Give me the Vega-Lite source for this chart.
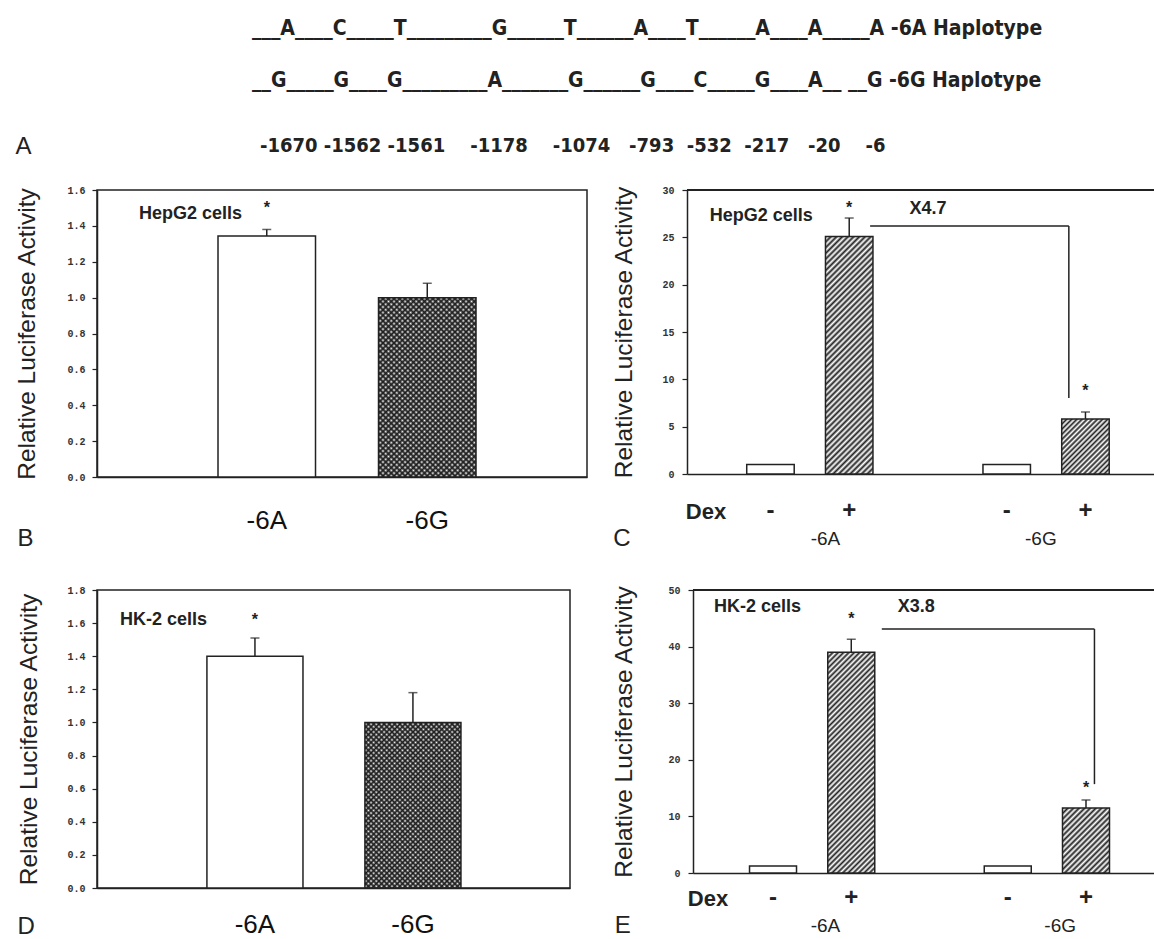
{
"$schema":"https://vega.github.io/schema/vega-lite/v6.json",
"usermeta":{"embedOptions":{"actions":false}},
"background":"white",
"padding":{"left":13,"top":17,"right":0,"bottom":0},
"config":{"font":"Liberation Sans","view":{"stroke":null},"axis":{"grid":false,"labelOverlap":false}},
"bounds":"flush",
"spacing":44,
"vconcat":[
{"width":310,"height":117,
 "data":{"values":[{"k":"1","t":"___A____C_____T_________G______T______A____T______A____A_____A -6A Haplotype"},{"k":"2","t":"__G_____G____G_________A_______G______G____C_____G____A__ __G -6G Haplotype"},{"k":"3","t":"-1670 -1562 -1561\u00a0\u00a0\u00a0 -1178\u00a0\u00a0\u00a0 -1074\u00a0\u00a0 -793\u00a0 -532\u00a0 -217\u00a0\u00a0 -20\u00a0\u00a0\u00a0 -6"}]},
 "layer":[
  {"transform":[{"filter":"datum.k == '1'"}],
   "mark":{"type":"text","font":"DejaVu Sans Condensed, DejaVu Sans","fontWeight":"bold","fontSize":21,"align":"left","baseline":"middle","color":"#222"},
   "encoding":{"y":{"field":"k","type":"ordinal","scale":{"type":"point","domain":["1","2","3"],"padding":0},"axis":{"title":null,"domain":false,"ticks":false,"labelExpr":"datum.value == '3' ? 'A' : ''","labelFont":"Liberation Sans","labelFontSize":24,"labelColor":"#222","labelPadding":66}},"text":{"field":"t"}}},
  {"transform":[{"filter":"datum.k == '2'"}],
   "mark":{"type":"text","font":"DejaVu Sans Condensed, DejaVu Sans","fontWeight":"bold","fontSize":21,"align":"left","baseline":"middle","color":"#222","dy":-6.5},
   "encoding":{"y":{"field":"k","type":"ordinal"},"text":{"field":"t"}}},
  {"transform":[{"filter":"datum.k == '3'"}],
   "mark":{"type":"text","font":"DejaVu Sans Condensed, DejaVu Sans","fontWeight":"bold","fontSize":20,"align":"left","baseline":"middle","color":"#222","dx":8},
   "encoding":{"y":{"field":"k","type":"ordinal"},"text":{"field":"t"}}}
 ]},
{"bounds":"flush","spacing":400,"vconcat":[
 {"bounds":"flush","spacing":100,"hconcat":[
  {"width":490,"height":287,
   "view":{"stroke":"#222","strokeWidth":1.5},
   "data":{"values":[{"geno":"-6A","value":1.343,"hi":1.38},{"geno":"-6G","value":1.0,"hi":1.08}]},
   "layer":[
    {"transform":[{"filter":"datum.geno == '-6A'"}],
     "mark":{"type":"bar","fill":"white","stroke":"#222","strokeWidth":1.5},
     "encoding":{
      "x":{"field":"geno","type":"nominal","scale":{"domain":["-6A","-6G"],"paddingInner":0.3925,"paddingOuter":0.7227,"align":0.5216},
           "axis":{"title":"B","titleX":-80,"titleY":61,"titleAlign":"left","titleBaseline":"middle","titleAngle":0,"titleFontSize":24,"titleFontWeight":"normal","titleColor":"#222","labelAngle":0,"labelFontSize":26,"labelColor":"#111","labelPadding":30,"ticks":false,"tickSize":0,"domainColor":"#222","domainWidth":1.5}},
      "y":{"field":"value","type":"quantitative","scale":{"domain":[0,1.6],"nice":false},
           "axis":{"title":"Relative Luciferase Activity","titleX":-70,"titleBaseline":"middle","titleAlign":"center","titleAngle":-90,"titleFontSize":24.5,"titleFontWeight":"normal","titleColor":"#222","values":[0,0.2,0.4,0.6,0.8,1,1.2,1.4,1.6],"tickCount":20,"format":".1f","labelFont":"Liberation Mono","labelFontSize":10,"labelFontWeight":"bold","labelColor":"#333","tickSize":5,"tickWidth":1.2,"tickColor":"#222","labelPadding":7,"domainColor":"#222","domainWidth":1.5}}}},
    {"transform":[{"filter":"datum.geno == '-6G'"}],
     "mark":{"type":"bar","fill":{"gradient":"linear","x1":0,"y1":0,"x2":0.6476,"y2":1.1916,"stops":[{"offset":0,"color":"#222"},{"offset":0.01,"color":"#fff"},{"offset":0.02,"color":"#222"},{"offset":0.03,"color":"#fff"},{"offset":0.04,"color":"#222"},{"offset":0.05,"color":"#fff"},{"offset":0.06,"color":"#222"},{"offset":0.07,"color":"#fff"},{"offset":0.08,"color":"#222"},{"offset":0.09,"color":"#fff"},{"offset":0.1,"color":"#222"},{"offset":0.11,"color":"#fff"},{"offset":0.12,"color":"#222"},{"offset":0.13,"color":"#fff"},{"offset":0.14,"color":"#222"},{"offset":0.15,"color":"#fff"},{"offset":0.16,"color":"#222"},{"offset":0.17,"color":"#fff"},{"offset":0.18,"color":"#222"},{"offset":0.19,"color":"#fff"},{"offset":0.2,"color":"#222"},{"offset":0.21,"color":"#fff"},{"offset":0.22,"color":"#222"},{"offset":0.23,"color":"#fff"},{"offset":0.24,"color":"#222"},{"offset":0.25,"color":"#fff"},{"offset":0.26,"color":"#222"},{"offset":0.27,"color":"#fff"},{"offset":0.28,"color":"#222"},{"offset":0.29,"color":"#fff"},{"offset":0.3,"color":"#222"},{"offset":0.31,"color":"#fff"},{"offset":0.32,"color":"#222"},{"offset":0.33,"color":"#fff"},{"offset":0.34,"color":"#222"},{"offset":0.35,"color":"#fff"},{"offset":0.36,"color":"#222"},{"offset":0.37,"color":"#fff"},{"offset":0.38,"color":"#222"},{"offset":0.39,"color":"#fff"},{"offset":0.4,"color":"#222"},{"offset":0.41,"color":"#fff"},{"offset":0.42,"color":"#222"},{"offset":0.43,"color":"#fff"},{"offset":0.44,"color":"#222"},{"offset":0.45,"color":"#fff"},{"offset":0.46,"color":"#222"},{"offset":0.47,"color":"#fff"},{"offset":0.48,"color":"#222"},{"offset":0.49,"color":"#fff"},{"offset":0.5,"color":"#222"},{"offset":0.51,"color":"#fff"},{"offset":0.52,"color":"#222"},{"offset":0.53,"color":"#fff"},{"offset":0.54,"color":"#222"},{"offset":0.55,"color":"#fff"},{"offset":0.56,"color":"#222"},{"offset":0.57,"color":"#fff"},{"offset":0.58,"color":"#222"},{"offset":0.59,"color":"#fff"},{"offset":0.6,"color":"#222"},{"offset":0.61,"color":"#fff"},{"offset":0.62,"color":"#222"},{"offset":0.63,"color":"#fff"},{"offset":0.64,"color":"#222"},{"offset":0.65,"color":"#fff"},{"offset":0.66,"color":"#222"},{"offset":0.67,"color":"#fff"},{"offset":0.68,"color":"#222"},{"offset":0.69,"color":"#fff"},{"offset":0.7,"color":"#222"},{"offset":0.71,"color":"#fff"},{"offset":0.72,"color":"#222"},{"offset":0.73,"color":"#fff"},{"offset":0.74,"color":"#222"},{"offset":0.75,"color":"#fff"},{"offset":0.76,"color":"#222"},{"offset":0.77,"color":"#fff"},{"offset":0.78,"color":"#222"},{"offset":0.79,"color":"#fff"},{"offset":0.8,"color":"#222"},{"offset":0.81,"color":"#fff"},{"offset":0.82,"color":"#222"},{"offset":0.83,"color":"#fff"},{"offset":0.84,"color":"#222"},{"offset":0.85,"color":"#fff"},{"offset":0.86,"color":"#222"},{"offset":0.87,"color":"#fff"},{"offset":0.88,"color":"#222"},{"offset":0.89,"color":"#fff"},{"offset":0.9,"color":"#222"},{"offset":0.91,"color":"#fff"},{"offset":0.92,"color":"#222"},{"offset":0.93,"color":"#fff"},{"offset":0.94,"color":"#222"},{"offset":0.95,"color":"#fff"},{"offset":0.96,"color":"#222"},{"offset":0.97,"color":"#fff"},{"offset":0.98,"color":"#222"},{"offset":0.99,"color":"#fff"},{"offset":1,"color":"#222"}]}},
     "encoding":{"x":{"field":"geno","type":"nominal"},"y":{"field":"value","type":"quantitative"}}},
    {"transform":[{"filter":"datum.geno == '-6G'"}],
     "mark":{"type":"bar","stroke":"#222","strokeWidth":1.5,"fill":{"gradient":"linear","x1":0,"y1":1,"x2":0.6476,"y2":-0.1916,"stops":[{"offset":0,"color":"#222"},{"offset":0.01,"color":"transparent"},{"offset":0.02,"color":"#222"},{"offset":0.03,"color":"transparent"},{"offset":0.04,"color":"#222"},{"offset":0.05,"color":"transparent"},{"offset":0.06,"color":"#222"},{"offset":0.07,"color":"transparent"},{"offset":0.08,"color":"#222"},{"offset":0.09,"color":"transparent"},{"offset":0.1,"color":"#222"},{"offset":0.11,"color":"transparent"},{"offset":0.12,"color":"#222"},{"offset":0.13,"color":"transparent"},{"offset":0.14,"color":"#222"},{"offset":0.15,"color":"transparent"},{"offset":0.16,"color":"#222"},{"offset":0.17,"color":"transparent"},{"offset":0.18,"color":"#222"},{"offset":0.19,"color":"transparent"},{"offset":0.2,"color":"#222"},{"offset":0.21,"color":"transparent"},{"offset":0.22,"color":"#222"},{"offset":0.23,"color":"transparent"},{"offset":0.24,"color":"#222"},{"offset":0.25,"color":"transparent"},{"offset":0.26,"color":"#222"},{"offset":0.27,"color":"transparent"},{"offset":0.28,"color":"#222"},{"offset":0.29,"color":"transparent"},{"offset":0.3,"color":"#222"},{"offset":0.31,"color":"transparent"},{"offset":0.32,"color":"#222"},{"offset":0.33,"color":"transparent"},{"offset":0.34,"color":"#222"},{"offset":0.35,"color":"transparent"},{"offset":0.36,"color":"#222"},{"offset":0.37,"color":"transparent"},{"offset":0.38,"color":"#222"},{"offset":0.39,"color":"transparent"},{"offset":0.4,"color":"#222"},{"offset":0.41,"color":"transparent"},{"offset":0.42,"color":"#222"},{"offset":0.43,"color":"transparent"},{"offset":0.44,"color":"#222"},{"offset":0.45,"color":"transparent"},{"offset":0.46,"color":"#222"},{"offset":0.47,"color":"transparent"},{"offset":0.48,"color":"#222"},{"offset":0.49,"color":"transparent"},{"offset":0.5,"color":"#222"},{"offset":0.51,"color":"transparent"},{"offset":0.52,"color":"#222"},{"offset":0.53,"color":"transparent"},{"offset":0.54,"color":"#222"},{"offset":0.55,"color":"transparent"},{"offset":0.56,"color":"#222"},{"offset":0.57,"color":"transparent"},{"offset":0.58,"color":"#222"},{"offset":0.59,"color":"transparent"},{"offset":0.6,"color":"#222"},{"offset":0.61,"color":"transparent"},{"offset":0.62,"color":"#222"},{"offset":0.63,"color":"transparent"},{"offset":0.64,"color":"#222"},{"offset":0.65,"color":"transparent"},{"offset":0.66,"color":"#222"},{"offset":0.67,"color":"transparent"},{"offset":0.68,"color":"#222"},{"offset":0.69,"color":"transparent"},{"offset":0.7,"color":"#222"},{"offset":0.71,"color":"transparent"},{"offset":0.72,"color":"#222"},{"offset":0.73,"color":"transparent"},{"offset":0.74,"color":"#222"},{"offset":0.75,"color":"transparent"},{"offset":0.76,"color":"#222"},{"offset":0.77,"color":"transparent"},{"offset":0.78,"color":"#222"},{"offset":0.79,"color":"transparent"},{"offset":0.8,"color":"#222"},{"offset":0.81,"color":"transparent"},{"offset":0.82,"color":"#222"},{"offset":0.83,"color":"transparent"},{"offset":0.84,"color":"#222"},{"offset":0.85,"color":"transparent"},{"offset":0.86,"color":"#222"},{"offset":0.87,"color":"transparent"},{"offset":0.88,"color":"#222"},{"offset":0.89,"color":"transparent"},{"offset":0.9,"color":"#222"},{"offset":0.91,"color":"transparent"},{"offset":0.92,"color":"#222"},{"offset":0.93,"color":"transparent"},{"offset":0.94,"color":"#222"},{"offset":0.95,"color":"transparent"},{"offset":0.96,"color":"#222"},{"offset":0.97,"color":"transparent"},{"offset":0.98,"color":"#222"},{"offset":0.99,"color":"transparent"},{"offset":1,"color":"#222"}]}},
     "encoding":{"x":{"field":"geno","type":"nominal"},"y":{"field":"value","type":"quantitative"}}},
    {"mark":{"type":"rule","stroke":"#222","strokeWidth":1.5},"encoding":{"x":{"field":"geno","type":"nominal"},"y":{"field":"value","type":"quantitative"},"y2":{"field":"hi"}}},
    {"mark":{"type":"tick","orient":"horizontal","size":9,"thickness":1.5,"color":"#222"},"encoding":{"x":{"field":"geno","type":"nominal"},"y":{"field":"hi","type":"quantitative"}}},
    {"data":{"values":[{"geno":"-6A","v":1.5}]},"mark":{"type":"text","text":"*","fontSize":16,"fontWeight":"bold","color":"#222","baseline":"middle"},"encoding":{"x":{"field":"geno","type":"nominal"},"y":{"field":"v","type":"quantitative"}}},
    {"data":{"values":[{"geno":"-6A","v":1.466,"t":"HepG2 cells"}]},"mark":{"type":"text","fontSize":18,"fontWeight":"bold","color":"#222","align":"left","baseline":"middle"},"encoding":{"x":{"field":"geno","type":"nominal","bandPosition":-0.81},"y":{"field":"v","type":"quantitative"},"text":{"field":"t"}}}
   ]},
  {"width":468,"height":284,
   "data":{"values":[{"cond":"-6A -","geno":"-6A","dex":"-","value":1.0},{"cond":"-6A +","geno":"-6A","dex":"+","value":25.1,"hi":27.04},{"cond":"-6G -","geno":"-6G","dex":"-","value":1.0},{"cond":"-6G +","geno":"-6G","dex":"+","value":5.8,"hi":6.55}]},
   "layer":[
    {"transform":[{"filter":"datum.dex == '-'"}],
     "mark":{"type":"bar","fill":"white","stroke":"#222","strokeWidth":1.5},
     "encoding":{
      "x":{"field":"cond","type":"nominal","scale":{"domain":["-6A -","-6A +","gap","-6G -","-6G +"],"paddingInner":0.397,"paddingOuter":0.67,"align":0.566},
           "axis":{"title":"Dex","titleX":18.5,"titleY":37,"titleAlign":"center","titleBaseline":"middle","titleAngle":0,"titleFontSize":22,"titleFontWeight":"bold","titleColor":"#222","labelExpr":"datum.value == 'gap' ? '' : slice(datum.value, -1)","labelAngle":0,"labelFontSize":24,"labelFontWeight":"bold","labelColor":"#222","labelPadding":24,"ticks":false,"tickSize":0,"domainColor":"#222","domainWidth":1.5}},
      "y":{"field":"value","type":"quantitative","scale":{"domain":[0,30],"nice":false},
           "axis":{"title":"Relative Luciferase Activity","titleX":-63,"titleBaseline":"middle","titleAlign":"center","titleAngle":-90,"titleFontSize":24.5,"titleFontWeight":"normal","titleColor":"#222","values":[0,5,10,15,20,25,30],"tickCount":20,"format":"d","labelFont":"Liberation Mono","labelFontSize":10,"labelFontWeight":"bold","labelColor":"#333","tickSize":5,"tickWidth":1.2,"tickColor":"#222","labelPadding":8,"domainColor":"#222","domainWidth":1.5}}}},
    {"transform":[{"filter":"datum.cond == '-6A +'"}],
     "mark":{"type":"bar","stroke":"#222","strokeWidth":1.5,"fill":{"gradient":"linear","x1":0,"y1":0,"x2":0.2306,"y2":1.1538,"stops":[{"offset":0,"color":"#222"},{"offset":0.01,"color":"#fff"},{"offset":0.02,"color":"#222"},{"offset":0.03,"color":"#fff"},{"offset":0.04,"color":"#222"},{"offset":0.05,"color":"#fff"},{"offset":0.06,"color":"#222"},{"offset":0.07,"color":"#fff"},{"offset":0.08,"color":"#222"},{"offset":0.09,"color":"#fff"},{"offset":0.1,"color":"#222"},{"offset":0.11,"color":"#fff"},{"offset":0.12,"color":"#222"},{"offset":0.13,"color":"#fff"},{"offset":0.14,"color":"#222"},{"offset":0.15,"color":"#fff"},{"offset":0.16,"color":"#222"},{"offset":0.17,"color":"#fff"},{"offset":0.18,"color":"#222"},{"offset":0.19,"color":"#fff"},{"offset":0.2,"color":"#222"},{"offset":0.21,"color":"#fff"},{"offset":0.22,"color":"#222"},{"offset":0.23,"color":"#fff"},{"offset":0.24,"color":"#222"},{"offset":0.25,"color":"#fff"},{"offset":0.26,"color":"#222"},{"offset":0.27,"color":"#fff"},{"offset":0.28,"color":"#222"},{"offset":0.29,"color":"#fff"},{"offset":0.3,"color":"#222"},{"offset":0.31,"color":"#fff"},{"offset":0.32,"color":"#222"},{"offset":0.33,"color":"#fff"},{"offset":0.34,"color":"#222"},{"offset":0.35,"color":"#fff"},{"offset":0.36,"color":"#222"},{"offset":0.37,"color":"#fff"},{"offset":0.38,"color":"#222"},{"offset":0.39,"color":"#fff"},{"offset":0.4,"color":"#222"},{"offset":0.41,"color":"#fff"},{"offset":0.42,"color":"#222"},{"offset":0.43,"color":"#fff"},{"offset":0.44,"color":"#222"},{"offset":0.45,"color":"#fff"},{"offset":0.46,"color":"#222"},{"offset":0.47,"color":"#fff"},{"offset":0.48,"color":"#222"},{"offset":0.49,"color":"#fff"},{"offset":0.5,"color":"#222"},{"offset":0.51,"color":"#fff"},{"offset":0.52,"color":"#222"},{"offset":0.53,"color":"#fff"},{"offset":0.54,"color":"#222"},{"offset":0.55,"color":"#fff"},{"offset":0.56,"color":"#222"},{"offset":0.57,"color":"#fff"},{"offset":0.58,"color":"#222"},{"offset":0.59,"color":"#fff"},{"offset":0.6,"color":"#222"},{"offset":0.61,"color":"#fff"},{"offset":0.62,"color":"#222"},{"offset":0.63,"color":"#fff"},{"offset":0.64,"color":"#222"},{"offset":0.65,"color":"#fff"},{"offset":0.66,"color":"#222"},{"offset":0.67,"color":"#fff"},{"offset":0.68,"color":"#222"},{"offset":0.69,"color":"#fff"},{"offset":0.7,"color":"#222"},{"offset":0.71,"color":"#fff"},{"offset":0.72,"color":"#222"},{"offset":0.73,"color":"#fff"},{"offset":0.74,"color":"#222"},{"offset":0.75,"color":"#fff"},{"offset":0.76,"color":"#222"},{"offset":0.77,"color":"#fff"},{"offset":0.78,"color":"#222"},{"offset":0.79,"color":"#fff"},{"offset":0.8,"color":"#222"},{"offset":0.81,"color":"#fff"},{"offset":0.82,"color":"#222"},{"offset":0.83,"color":"#fff"},{"offset":0.84,"color":"#222"},{"offset":0.85,"color":"#fff"},{"offset":0.86,"color":"#222"},{"offset":0.87,"color":"#fff"},{"offset":0.88,"color":"#222"},{"offset":0.89,"color":"#fff"},{"offset":0.9,"color":"#222"},{"offset":0.91,"color":"#fff"},{"offset":0.92,"color":"#222"},{"offset":0.93,"color":"#fff"},{"offset":0.94,"color":"#222"},{"offset":0.95,"color":"#fff"},{"offset":0.96,"color":"#222"},{"offset":0.97,"color":"#fff"},{"offset":0.98,"color":"#222"},{"offset":0.99,"color":"#fff"},{"offset":1,"color":"#222"}]}},
     "encoding":{"x":{"field":"cond","type":"nominal"},"y":{"field":"value","type":"quantitative"}}},
    {"transform":[{"filter":"datum.cond == '-6G +'"}],
     "mark":{"type":"bar","stroke":"#222","strokeWidth":1.5,"fill":{"gradient":"linear","x1":0,"y1":0,"x2":0.9229,"y2":1.0669,"stops":[{"offset":0,"color":"#222"},{"offset":0.025,"color":"#fff"},{"offset":0.05,"color":"#222"},{"offset":0.075,"color":"#fff"},{"offset":0.1,"color":"#222"},{"offset":0.125,"color":"#fff"},{"offset":0.15,"color":"#222"},{"offset":0.175,"color":"#fff"},{"offset":0.2,"color":"#222"},{"offset":0.225,"color":"#fff"},{"offset":0.25,"color":"#222"},{"offset":0.275,"color":"#fff"},{"offset":0.3,"color":"#222"},{"offset":0.325,"color":"#fff"},{"offset":0.35,"color":"#222"},{"offset":0.375,"color":"#fff"},{"offset":0.4,"color":"#222"},{"offset":0.425,"color":"#fff"},{"offset":0.45,"color":"#222"},{"offset":0.475,"color":"#fff"},{"offset":0.5,"color":"#222"},{"offset":0.525,"color":"#fff"},{"offset":0.55,"color":"#222"},{"offset":0.575,"color":"#fff"},{"offset":0.6,"color":"#222"},{"offset":0.625,"color":"#fff"},{"offset":0.65,"color":"#222"},{"offset":0.675,"color":"#fff"},{"offset":0.7,"color":"#222"},{"offset":0.725,"color":"#fff"},{"offset":0.75,"color":"#222"},{"offset":0.775,"color":"#fff"},{"offset":0.8,"color":"#222"},{"offset":0.825,"color":"#fff"},{"offset":0.85,"color":"#222"},{"offset":0.875,"color":"#fff"},{"offset":0.9,"color":"#222"},{"offset":0.925,"color":"#fff"},{"offset":0.95,"color":"#222"},{"offset":0.975,"color":"#fff"},{"offset":1,"color":"#222"}]}},
     "encoding":{"x":{"field":"cond","type":"nominal"},"y":{"field":"value","type":"quantitative"}}},
    {"mark":{"type":"rule","stroke":"#222","strokeWidth":1.5},"encoding":{"y":{"datum":30,"type":"quantitative"}}},
    {"transform":[{"filter":"datum.hi != null"}],"mark":{"type":"rule","stroke":"#222","strokeWidth":1.5},"encoding":{"x":{"field":"cond","type":"nominal"},"y":{"field":"value","type":"quantitative"},"y2":{"field":"hi"}}},
    {"transform":[{"filter":"datum.hi != null"}],"mark":{"type":"tick","orient":"horizontal","size":9,"thickness":1.5,"color":"#222"},"encoding":{"x":{"field":"cond","type":"nominal"},"y":{"field":"hi","type":"quantitative"}}},
    {"data":{"values":[{"cond":"-6A +","v":28.1},{"cond":"-6G +","v":8.77}]},"mark":{"type":"text","text":"*","fontSize":16,"fontWeight":"bold","color":"#222","baseline":"middle"},"encoding":{"x":{"field":"cond","type":"nominal"},"y":{"field":"v","type":"quantitative"}}},
    {"data":{"values":[{"cond":"-6A -","v":27.25,"t":"HepG2 cells"}]},"mark":{"type":"text","fontSize":18,"fontWeight":"bold","color":"#222","align":"left","baseline":"middle"},"encoding":{"x":{"field":"cond","type":"nominal","bandPosition":-0.78},"y":{"field":"v","type":"quantitative"},"text":{"field":"t"}}},
    {"data":{"values":[{"cond":"gap","v":28.0,"t":"X4.7"}]},"mark":{"type":"text","fontSize":18,"fontWeight":"bold","color":"#222","align":"center","baseline":"middle"},"encoding":{"x":{"field":"cond","type":"nominal"},"y":{"field":"v","type":"quantitative"},"text":{"field":"t"}}},
    {"data":{"values":[{"a":"-6A +","b":"-6G +","v":26.2}]},"mark":{"type":"rule","stroke":"#222","strokeWidth":1.5},"encoding":{"x":{"field":"a","type":"nominal","bandPosition":0.94},"x2":{"field":"b","bandPosition":0.15},"y":{"field":"v","type":"quantitative"}}},
    {"data":{"values":[{"b":"-6G +","v":26.2,"v2":8.03}]},"mark":{"type":"rule","stroke":"#222","strokeWidth":1.5},"encoding":{"x":{"field":"b","type":"nominal","bandPosition":0.15},"y":{"field":"v","type":"quantitative"},"y2":{"field":"v2"}}},
    {"data":{"values":[{"cond":"-6A +","t":"-6A"}]},"mark":{"type":"text","fontSize":19,"color":"#222","align":"center","baseline":"middle"},"encoding":{"x":{"field":"cond","type":"nominal","bandPosition":0},"y":{"datum":-6.87,"type":"quantitative"},"text":{"field":"t"}}},
    {"data":{"values":[{"cond":"-6G +","t":"-6G"}]},"mark":{"type":"text","fontSize":19,"color":"#222","align":"center","baseline":"middle"},"encoding":{"x":{"field":"cond","type":"nominal","bandPosition":-0.44},"y":{"datum":-6.87,"type":"quantitative"},"text":{"field":"t"}}},
    {"data":{"values":[{"cond":"-6A -","t":"C"}]},"mark":{"type":"text","fontSize":24,"color":"#222","align":"center","baseline":"middle"},"encoding":{"x":{"field":"cond","type":"nominal","bandPosition":-2.63},"y":{"datum":-6.87,"type":"quantitative"},"text":{"field":"t"}}}
   ]}
 ]},
 {"bounds":"flush","spacing":123,"hconcat":[
  {"width":473,"height":298,
   "view":{"stroke":"#222","strokeWidth":1.5},
   "data":{"values":[{"geno":"-6A","value":1.4,"hi":1.51},{"geno":"-6G","value":1.0,"hi":1.18}]},
   "layer":[
    {"transform":[{"filter":"datum.geno == '-6A'"}],
     "mark":{"type":"bar","fill":"white","stroke":"#222","strokeWidth":1.5},
     "encoding":{
      "x":{"field":"geno","type":"nominal","scale":{"domain":["-6A","-6G"],"paddingInner":0.392,"paddingOuter":0.693,"align":0.502},
           "axis":{"title":"D","titleX":-80,"titleY":38,"titleAlign":"left","titleBaseline":"middle","titleAngle":0,"titleFontSize":24,"titleFontWeight":"normal","titleColor":"#222","labelAngle":0,"labelFontSize":26,"labelColor":"#111","labelPadding":23,"ticks":false,"tickSize":0,"domainColor":"#222","domainWidth":1.5}},
      "y":{"field":"value","type":"quantitative","scale":{"domain":[0,1.8],"nice":false},
           "axis":{"title":"Relative Luciferase Activity","titleX":-68,"titleBaseline":"middle","titleAlign":"center","titleAngle":-90,"titleFontSize":24.5,"titleFontWeight":"normal","titleColor":"#222","values":[0,0.2,0.4,0.6,0.8,1,1.2,1.4,1.6,1.8],"tickCount":20,"format":".1f","labelFont":"Liberation Mono","labelFontSize":10,"labelFontWeight":"bold","labelColor":"#333","tickSize":5,"tickWidth":1.2,"tickColor":"#222","labelPadding":7,"domainColor":"#222","domainWidth":1.5}}}},
    {"transform":[{"filter":"datum.geno == '-6G'"}],
     "mark":{"type":"bar","fill":{"gradient":"linear","x1":0,"y1":0,"x2":0.6854,"y2":1.1824,"stops":[{"offset":0,"color":"#222"},{"offset":0.01,"color":"#fff"},{"offset":0.02,"color":"#222"},{"offset":0.03,"color":"#fff"},{"offset":0.04,"color":"#222"},{"offset":0.05,"color":"#fff"},{"offset":0.06,"color":"#222"},{"offset":0.07,"color":"#fff"},{"offset":0.08,"color":"#222"},{"offset":0.09,"color":"#fff"},{"offset":0.1,"color":"#222"},{"offset":0.11,"color":"#fff"},{"offset":0.12,"color":"#222"},{"offset":0.13,"color":"#fff"},{"offset":0.14,"color":"#222"},{"offset":0.15,"color":"#fff"},{"offset":0.16,"color":"#222"},{"offset":0.17,"color":"#fff"},{"offset":0.18,"color":"#222"},{"offset":0.19,"color":"#fff"},{"offset":0.2,"color":"#222"},{"offset":0.21,"color":"#fff"},{"offset":0.22,"color":"#222"},{"offset":0.23,"color":"#fff"},{"offset":0.24,"color":"#222"},{"offset":0.25,"color":"#fff"},{"offset":0.26,"color":"#222"},{"offset":0.27,"color":"#fff"},{"offset":0.28,"color":"#222"},{"offset":0.29,"color":"#fff"},{"offset":0.3,"color":"#222"},{"offset":0.31,"color":"#fff"},{"offset":0.32,"color":"#222"},{"offset":0.33,"color":"#fff"},{"offset":0.34,"color":"#222"},{"offset":0.35,"color":"#fff"},{"offset":0.36,"color":"#222"},{"offset":0.37,"color":"#fff"},{"offset":0.38,"color":"#222"},{"offset":0.39,"color":"#fff"},{"offset":0.4,"color":"#222"},{"offset":0.41,"color":"#fff"},{"offset":0.42,"color":"#222"},{"offset":0.43,"color":"#fff"},{"offset":0.44,"color":"#222"},{"offset":0.45,"color":"#fff"},{"offset":0.46,"color":"#222"},{"offset":0.47,"color":"#fff"},{"offset":0.48,"color":"#222"},{"offset":0.49,"color":"#fff"},{"offset":0.5,"color":"#222"},{"offset":0.51,"color":"#fff"},{"offset":0.52,"color":"#222"},{"offset":0.53,"color":"#fff"},{"offset":0.54,"color":"#222"},{"offset":0.55,"color":"#fff"},{"offset":0.56,"color":"#222"},{"offset":0.57,"color":"#fff"},{"offset":0.58,"color":"#222"},{"offset":0.59,"color":"#fff"},{"offset":0.6,"color":"#222"},{"offset":0.61,"color":"#fff"},{"offset":0.62,"color":"#222"},{"offset":0.63,"color":"#fff"},{"offset":0.64,"color":"#222"},{"offset":0.65,"color":"#fff"},{"offset":0.66,"color":"#222"},{"offset":0.67,"color":"#fff"},{"offset":0.68,"color":"#222"},{"offset":0.69,"color":"#fff"},{"offset":0.7,"color":"#222"},{"offset":0.71,"color":"#fff"},{"offset":0.72,"color":"#222"},{"offset":0.73,"color":"#fff"},{"offset":0.74,"color":"#222"},{"offset":0.75,"color":"#fff"},{"offset":0.76,"color":"#222"},{"offset":0.77,"color":"#fff"},{"offset":0.78,"color":"#222"},{"offset":0.79,"color":"#fff"},{"offset":0.8,"color":"#222"},{"offset":0.81,"color":"#fff"},{"offset":0.82,"color":"#222"},{"offset":0.83,"color":"#fff"},{"offset":0.84,"color":"#222"},{"offset":0.85,"color":"#fff"},{"offset":0.86,"color":"#222"},{"offset":0.87,"color":"#fff"},{"offset":0.88,"color":"#222"},{"offset":0.89,"color":"#fff"},{"offset":0.9,"color":"#222"},{"offset":0.91,"color":"#fff"},{"offset":0.92,"color":"#222"},{"offset":0.93,"color":"#fff"},{"offset":0.94,"color":"#222"},{"offset":0.95,"color":"#fff"},{"offset":0.96,"color":"#222"},{"offset":0.97,"color":"#fff"},{"offset":0.98,"color":"#222"},{"offset":0.99,"color":"#fff"},{"offset":1,"color":"#222"}]}},
     "encoding":{"x":{"field":"geno","type":"nominal"},"y":{"field":"value","type":"quantitative"}}},
    {"transform":[{"filter":"datum.geno == '-6G'"}],
     "mark":{"type":"bar","stroke":"#222","strokeWidth":1.5,"fill":{"gradient":"linear","x1":0,"y1":1,"x2":0.6854,"y2":-0.1824,"stops":[{"offset":0,"color":"#222"},{"offset":0.01,"color":"transparent"},{"offset":0.02,"color":"#222"},{"offset":0.03,"color":"transparent"},{"offset":0.04,"color":"#222"},{"offset":0.05,"color":"transparent"},{"offset":0.06,"color":"#222"},{"offset":0.07,"color":"transparent"},{"offset":0.08,"color":"#222"},{"offset":0.09,"color":"transparent"},{"offset":0.1,"color":"#222"},{"offset":0.11,"color":"transparent"},{"offset":0.12,"color":"#222"},{"offset":0.13,"color":"transparent"},{"offset":0.14,"color":"#222"},{"offset":0.15,"color":"transparent"},{"offset":0.16,"color":"#222"},{"offset":0.17,"color":"transparent"},{"offset":0.18,"color":"#222"},{"offset":0.19,"color":"transparent"},{"offset":0.2,"color":"#222"},{"offset":0.21,"color":"transparent"},{"offset":0.22,"color":"#222"},{"offset":0.23,"color":"transparent"},{"offset":0.24,"color":"#222"},{"offset":0.25,"color":"transparent"},{"offset":0.26,"color":"#222"},{"offset":0.27,"color":"transparent"},{"offset":0.28,"color":"#222"},{"offset":0.29,"color":"transparent"},{"offset":0.3,"color":"#222"},{"offset":0.31,"color":"transparent"},{"offset":0.32,"color":"#222"},{"offset":0.33,"color":"transparent"},{"offset":0.34,"color":"#222"},{"offset":0.35,"color":"transparent"},{"offset":0.36,"color":"#222"},{"offset":0.37,"color":"transparent"},{"offset":0.38,"color":"#222"},{"offset":0.39,"color":"transparent"},{"offset":0.4,"color":"#222"},{"offset":0.41,"color":"transparent"},{"offset":0.42,"color":"#222"},{"offset":0.43,"color":"transparent"},{"offset":0.44,"color":"#222"},{"offset":0.45,"color":"transparent"},{"offset":0.46,"color":"#222"},{"offset":0.47,"color":"transparent"},{"offset":0.48,"color":"#222"},{"offset":0.49,"color":"transparent"},{"offset":0.5,"color":"#222"},{"offset":0.51,"color":"transparent"},{"offset":0.52,"color":"#222"},{"offset":0.53,"color":"transparent"},{"offset":0.54,"color":"#222"},{"offset":0.55,"color":"transparent"},{"offset":0.56,"color":"#222"},{"offset":0.57,"color":"transparent"},{"offset":0.58,"color":"#222"},{"offset":0.59,"color":"transparent"},{"offset":0.6,"color":"#222"},{"offset":0.61,"color":"transparent"},{"offset":0.62,"color":"#222"},{"offset":0.63,"color":"transparent"},{"offset":0.64,"color":"#222"},{"offset":0.65,"color":"transparent"},{"offset":0.66,"color":"#222"},{"offset":0.67,"color":"transparent"},{"offset":0.68,"color":"#222"},{"offset":0.69,"color":"transparent"},{"offset":0.7,"color":"#222"},{"offset":0.71,"color":"transparent"},{"offset":0.72,"color":"#222"},{"offset":0.73,"color":"transparent"},{"offset":0.74,"color":"#222"},{"offset":0.75,"color":"transparent"},{"offset":0.76,"color":"#222"},{"offset":0.77,"color":"transparent"},{"offset":0.78,"color":"#222"},{"offset":0.79,"color":"transparent"},{"offset":0.8,"color":"#222"},{"offset":0.81,"color":"transparent"},{"offset":0.82,"color":"#222"},{"offset":0.83,"color":"transparent"},{"offset":0.84,"color":"#222"},{"offset":0.85,"color":"transparent"},{"offset":0.86,"color":"#222"},{"offset":0.87,"color":"transparent"},{"offset":0.88,"color":"#222"},{"offset":0.89,"color":"transparent"},{"offset":0.9,"color":"#222"},{"offset":0.91,"color":"transparent"},{"offset":0.92,"color":"#222"},{"offset":0.93,"color":"transparent"},{"offset":0.94,"color":"#222"},{"offset":0.95,"color":"transparent"},{"offset":0.96,"color":"#222"},{"offset":0.97,"color":"transparent"},{"offset":0.98,"color":"#222"},{"offset":0.99,"color":"transparent"},{"offset":1,"color":"#222"}]}},
     "encoding":{"x":{"field":"geno","type":"nominal"},"y":{"field":"value","type":"quantitative"}}},
    {"mark":{"type":"rule","stroke":"#222","strokeWidth":1.5},"encoding":{"x":{"field":"geno","type":"nominal"},"y":{"field":"value","type":"quantitative"},"y2":{"field":"hi"}}},
    {"mark":{"type":"tick","orient":"horizontal","size":9,"thickness":1.5,"color":"#222"},"encoding":{"x":{"field":"geno","type":"nominal"},"y":{"field":"hi","type":"quantitative"}}},
    {"data":{"values":[{"geno":"-6A","v":1.62}]},"mark":{"type":"text","text":"*","fontSize":16,"fontWeight":"bold","color":"#222","baseline":"middle"},"encoding":{"x":{"field":"geno","type":"nominal"},"y":{"field":"v","type":"quantitative"}}},
    {"data":{"values":[{"geno":"-6A","v":1.62,"t":"HK-2 cells"}]},"mark":{"type":"text","fontSize":18,"fontWeight":"bold","color":"#222","align":"left","baseline":"middle"},"encoding":{"x":{"field":"geno","type":"nominal","bandPosition":-0.906},"y":{"field":"v","type":"quantitative"},"text":{"field":"t"}}}
   ]},
  {"width":462,"height":283,
   "data":{"values":[{"cond":"-6A -","geno":"-6A","dex":"-","value":1.24},{"cond":"-6A +","geno":"-6A","dex":"+","value":39.0,"hi":41.3},{"cond":"-6G -","geno":"-6G","dex":"-","value":1.24},{"cond":"-6G +","geno":"-6G","dex":"+","value":11.5,"hi":12.9}]},
   "layer":[
    {"transform":[{"filter":"datum.dex == '-'"}],
     "mark":{"type":"bar","fill":"white","stroke":"#222","strokeWidth":1.5},
     "encoding":{
      "x":{"field":"cond","type":"nominal","scale":{"domain":["-6A -","-6A +","gap","-6G -","-6G +"],"paddingInner":0.3994,"paddingOuter":0.652,"align":0.554},
           "axis":{"title":"Dex","titleX":14.5,"titleY":25,"titleAlign":"center","titleBaseline":"middle","titleAngle":0,"titleFontSize":22,"titleFontWeight":"bold","titleColor":"#222","labelExpr":"datum.value == 'gap' ? '' : slice(datum.value, -1)","labelAngle":0,"labelFontSize":24,"labelFontWeight":"bold","labelColor":"#222","labelPadding":12,"ticks":false,"tickSize":0,"domainColor":"#222","domainWidth":1.5}},
      "y":{"field":"value","type":"quantitative","scale":{"domain":[0,50],"nice":false},
           "axis":{"title":"Relative Luciferase Activity","titleX":-69,"titleBaseline":"middle","titleAlign":"center","titleAngle":-90,"titleFontSize":24.5,"titleFontWeight":"normal","titleColor":"#222","values":[0,10,20,30,40,50],"tickCount":20,"format":"d","labelFont":"Liberation Mono","labelFontSize":10,"labelFontWeight":"bold","labelColor":"#333","tickSize":5,"tickWidth":1.2,"tickColor":"#222","labelPadding":8,"domainColor":"#222","domainWidth":1.5}}}},
    {"transform":[{"filter":"datum.cond == '-6A +'"}],
     "mark":{"type":"bar","stroke":"#222","strokeWidth":1.5,"fill":{"gradient":"linear","x1":0,"y1":0,"x2":0.2471,"y2":1.1605,"stops":[{"offset":0,"color":"#222"},{"offset":0.01,"color":"#fff"},{"offset":0.02,"color":"#222"},{"offset":0.03,"color":"#fff"},{"offset":0.04,"color":"#222"},{"offset":0.05,"color":"#fff"},{"offset":0.06,"color":"#222"},{"offset":0.07,"color":"#fff"},{"offset":0.08,"color":"#222"},{"offset":0.09,"color":"#fff"},{"offset":0.1,"color":"#222"},{"offset":0.11,"color":"#fff"},{"offset":0.12,"color":"#222"},{"offset":0.13,"color":"#fff"},{"offset":0.14,"color":"#222"},{"offset":0.15,"color":"#fff"},{"offset":0.16,"color":"#222"},{"offset":0.17,"color":"#fff"},{"offset":0.18,"color":"#222"},{"offset":0.19,"color":"#fff"},{"offset":0.2,"color":"#222"},{"offset":0.21,"color":"#fff"},{"offset":0.22,"color":"#222"},{"offset":0.23,"color":"#fff"},{"offset":0.24,"color":"#222"},{"offset":0.25,"color":"#fff"},{"offset":0.26,"color":"#222"},{"offset":0.27,"color":"#fff"},{"offset":0.28,"color":"#222"},{"offset":0.29,"color":"#fff"},{"offset":0.3,"color":"#222"},{"offset":0.31,"color":"#fff"},{"offset":0.32,"color":"#222"},{"offset":0.33,"color":"#fff"},{"offset":0.34,"color":"#222"},{"offset":0.35,"color":"#fff"},{"offset":0.36,"color":"#222"},{"offset":0.37,"color":"#fff"},{"offset":0.38,"color":"#222"},{"offset":0.39,"color":"#fff"},{"offset":0.4,"color":"#222"},{"offset":0.41,"color":"#fff"},{"offset":0.42,"color":"#222"},{"offset":0.43,"color":"#fff"},{"offset":0.44,"color":"#222"},{"offset":0.45,"color":"#fff"},{"offset":0.46,"color":"#222"},{"offset":0.47,"color":"#fff"},{"offset":0.48,"color":"#222"},{"offset":0.49,"color":"#fff"},{"offset":0.5,"color":"#222"},{"offset":0.51,"color":"#fff"},{"offset":0.52,"color":"#222"},{"offset":0.53,"color":"#fff"},{"offset":0.54,"color":"#222"},{"offset":0.55,"color":"#fff"},{"offset":0.56,"color":"#222"},{"offset":0.57,"color":"#fff"},{"offset":0.58,"color":"#222"},{"offset":0.59,"color":"#fff"},{"offset":0.6,"color":"#222"},{"offset":0.61,"color":"#fff"},{"offset":0.62,"color":"#222"},{"offset":0.63,"color":"#fff"},{"offset":0.64,"color":"#222"},{"offset":0.65,"color":"#fff"},{"offset":0.66,"color":"#222"},{"offset":0.67,"color":"#fff"},{"offset":0.68,"color":"#222"},{"offset":0.69,"color":"#fff"},{"offset":0.7,"color":"#222"},{"offset":0.71,"color":"#fff"},{"offset":0.72,"color":"#222"},{"offset":0.73,"color":"#fff"},{"offset":0.74,"color":"#222"},{"offset":0.75,"color":"#fff"},{"offset":0.76,"color":"#222"},{"offset":0.77,"color":"#fff"},{"offset":0.78,"color":"#222"},{"offset":0.79,"color":"#fff"},{"offset":0.8,"color":"#222"},{"offset":0.81,"color":"#fff"},{"offset":0.82,"color":"#222"},{"offset":0.83,"color":"#fff"},{"offset":0.84,"color":"#222"},{"offset":0.85,"color":"#fff"},{"offset":0.86,"color":"#222"},{"offset":0.87,"color":"#fff"},{"offset":0.88,"color":"#222"},{"offset":0.89,"color":"#fff"},{"offset":0.9,"color":"#222"},{"offset":0.91,"color":"#fff"},{"offset":0.92,"color":"#222"},{"offset":0.93,"color":"#fff"},{"offset":0.94,"color":"#222"},{"offset":0.95,"color":"#fff"},{"offset":0.96,"color":"#222"},{"offset":0.97,"color":"#fff"},{"offset":0.98,"color":"#222"},{"offset":0.99,"color":"#fff"},{"offset":1,"color":"#222"}]}},
     "encoding":{"x":{"field":"cond","type":"nominal"},"y":{"field":"value","type":"quantitative"}}},
    {"transform":[{"filter":"datum.cond == '-6G +'"}],
     "mark":{"type":"bar","stroke":"#222","strokeWidth":1.5,"fill":{"gradient":"linear","x1":0,"y1":0,"x2":0.8172,"y2":1.1320,"stops":[{"offset":0,"color":"#222"},{"offset":0.025,"color":"#fff"},{"offset":0.05,"color":"#222"},{"offset":0.075,"color":"#fff"},{"offset":0.1,"color":"#222"},{"offset":0.125,"color":"#fff"},{"offset":0.15,"color":"#222"},{"offset":0.175,"color":"#fff"},{"offset":0.2,"color":"#222"},{"offset":0.225,"color":"#fff"},{"offset":0.25,"color":"#222"},{"offset":0.275,"color":"#fff"},{"offset":0.3,"color":"#222"},{"offset":0.325,"color":"#fff"},{"offset":0.35,"color":"#222"},{"offset":0.375,"color":"#fff"},{"offset":0.4,"color":"#222"},{"offset":0.425,"color":"#fff"},{"offset":0.45,"color":"#222"},{"offset":0.475,"color":"#fff"},{"offset":0.5,"color":"#222"},{"offset":0.525,"color":"#fff"},{"offset":0.55,"color":"#222"},{"offset":0.575,"color":"#fff"},{"offset":0.6,"color":"#222"},{"offset":0.625,"color":"#fff"},{"offset":0.65,"color":"#222"},{"offset":0.675,"color":"#fff"},{"offset":0.7,"color":"#222"},{"offset":0.725,"color":"#fff"},{"offset":0.75,"color":"#222"},{"offset":0.775,"color":"#fff"},{"offset":0.8,"color":"#222"},{"offset":0.825,"color":"#fff"},{"offset":0.85,"color":"#222"},{"offset":0.875,"color":"#fff"},{"offset":0.9,"color":"#222"},{"offset":0.925,"color":"#fff"},{"offset":0.95,"color":"#222"},{"offset":0.975,"color":"#fff"},{"offset":1,"color":"#222"}]}},
     "encoding":{"x":{"field":"cond","type":"nominal"},"y":{"field":"value","type":"quantitative"}}},
    {"mark":{"type":"rule","stroke":"#222","strokeWidth":1.5},"encoding":{"y":{"datum":50,"type":"quantitative"}}},
    {"transform":[{"filter":"datum.hi != null"}],"mark":{"type":"rule","stroke":"#222","strokeWidth":1.5},"encoding":{"x":{"field":"cond","type":"nominal"},"y":{"field":"value","type":"quantitative"},"y2":{"field":"hi"}}},
    {"transform":[{"filter":"datum.hi != null"}],"mark":{"type":"tick","orient":"horizontal","size":9,"thickness":1.5,"color":"#222"},"encoding":{"x":{"field":"cond","type":"nominal"},"y":{"field":"hi","type":"quantitative"}}},
    {"data":{"values":[{"cond":"-6A +","v":44.9},{"cond":"-6G +","v":15.0}]},"mark":{"type":"text","text":"*","fontSize":16,"fontWeight":"bold","color":"#222","baseline":"middle"},"encoding":{"x":{"field":"cond","type":"nominal"},"y":{"field":"v","type":"quantitative"}}},
    {"data":{"values":[{"cond":"-6A -","v":47.0,"t":"HK-2 cells"}]},"mark":{"type":"text","fontSize":18,"fontWeight":"bold","color":"#222","align":"left","baseline":"middle"},"encoding":{"x":{"field":"cond","type":"nominal","bandPosition":-0.755},"y":{"field":"v","type":"quantitative"},"text":{"field":"t"}}},
    {"data":{"values":[{"cond":"gap","v":47.0,"t":"X3.8"}]},"mark":{"type":"text","fontSize":18,"fontWeight":"bold","color":"#222","align":"center","baseline":"middle"},"encoding":{"x":{"field":"cond","type":"nominal","bandPosition":0.22},"y":{"field":"v","type":"quantitative"},"text":{"field":"t"}}},
    {"data":{"values":[{"a":"-6A +","b":"-6G +","v":43.1}]},"mark":{"type":"rule","stroke":"#222","strokeWidth":1.5},"encoding":{"x":{"field":"a","type":"nominal","bandPosition":1.15},"x2":{"field":"b","bandPosition":0.68},"y":{"field":"v","type":"quantitative"}}},
    {"data":{"values":[{"b":"-6G +","v":43.1,"v2":15.7}]},"mark":{"type":"rule","stroke":"#222","strokeWidth":1.5},"encoding":{"x":{"field":"b","type":"nominal","bandPosition":0.68},"y":{"field":"v","type":"quantitative"},"y2":{"field":"v2"}}},
    {"data":{"values":[{"cond":"-6A +","t":"-6A"},{"cond":"-6G +","t":"-6G"}]},"mark":{"type":"text","fontSize":19,"color":"#222","align":"center","baseline":"middle"},"encoding":{"x":{"field":"cond","type":"nominal","bandPosition":-0.05},"y":{"datum":-9.36,"type":"quantitative"},"text":{"field":"t"}}},
    {"data":{"values":[{"cond":"-6A -","t":"E"}]},"mark":{"type":"text","fontSize":24,"color":"#222","align":"center","baseline":"middle"},"encoding":{"x":{"field":"cond","type":"nominal","bandPosition":-2.7},"y":{"datum":-9.36,"type":"quantitative"},"text":{"field":"t"}}}
   ]}
 ]}
]}
]
}
